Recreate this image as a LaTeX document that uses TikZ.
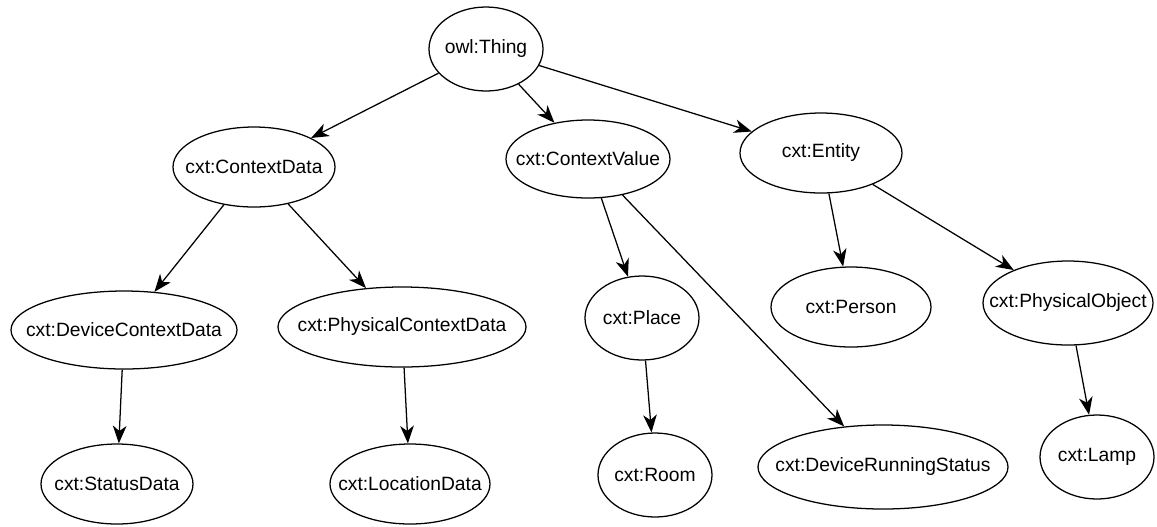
\documentclass[tikz,border=0pt]{standalone}
\usepackage{fontspec}
\setmainfont{Liberation Sans}
\usetikzlibrary{shapes.geometric,arrows.meta}
\newcommand{\kl}[1]{\makebox[0pt]{#1}}
\tikzset{
  klasse/.style={draw, ellipse, line width=0.9pt, inner sep=0pt,
    font=\fontsize{13.7}{16}\selectfont},
  sub/.style={line width=0.9pt, -{Stealth[length=0.44cm, width=0.34cm, inset=0.13cm]}}
}
\begin{document}
\begin{tikzpicture}
        \useasboundingbox (0,0) rectangle (28.925,-13.15);
        % Wurzel
        \node[klasse, minimum width=2.85cm, minimum height=2.1cm] (thing) at (12.15,-1.225) {\kl{owl:Thing}};
        % Ebene 1
        \node[klasse, minimum width=4.05cm, minimum height=2cm] (cdata) at (6.35,-4.175) {\kl{cxt:ContextData}};
        \node[klasse, minimum width=4.1cm, minimum height=1.95cm] (cvalue) at (14.7,-3.975) {\kl{cxt:ContextValue}};
        \node[klasse, minimum width=4.05cm, minimum height=2cm] (entity) at (20.525,-3.825) {\kl{cxt:Entity}};
        % Ebene 2
        \node[klasse, minimum width=5.65cm, minimum height=1.95cm] (devcd) at (3.1,-8.25) {\kl{cxt:DeviceContextData}};
        \node[klasse, minimum width=6.2cm, minimum height=2cm] (phycd) at (10.05,-8.175) {\kl{cxt:PhysicalContextData}};
        \node[klasse, minimum width=2.85cm, minimum height=2.1cm] (place) at (16.05,-7.95) {\kl{cxt:Place}};
        \node[klasse, minimum width=4cm, minimum height=2cm] (person) at (21.275,-7.675) {\kl{cxt:Person}};
        \node[klasse, minimum width=4.25cm, minimum height=2.1cm] (phyobj) at (26.7,-7.575) {\kl{cxt:PhysicalObject}};
        % Ebene 3
        \node[klasse, minimum width=3.8cm, minimum height=2cm] (status) at (2.925,-12.1) {\kl{cxt:StatusData}};
        \node[klasse, minimum width=4cm, minimum height=2cm] (location) at (10.25,-12.1) {\kl{cxt:LocationData}};
        \node[klasse, minimum width=2.85cm, minimum height=2.1cm] (room) at (16.375,-11.875) {\kl{cxt:Room}};
        \node[klasse, minimum width=6.25cm, minimum height=2.1cm] (drs) at (22.075,-11.675) {\kl{cxt:DeviceRunningStatus}};
        \node[klasse, minimum width=2.85cm, minimum height=2.1cm] (lamp) at (27.425,-11.425) {\kl{cxt:Lamp}};
        % Unterklassen
        \draw[sub] (thing) -- (cdata);
        \draw[sub] (thing) -- (cvalue);
        \draw[sub] (thing) -- (entity);
        \draw[sub] (cdata) -- (devcd);
        \draw[sub] (cdata) -- (phycd);
        \draw[sub] (cvalue) -- (place);
        \draw[sub] (cvalue) -- (drs);
        \draw[sub] (entity) -- (person);
        \draw[sub] (entity) -- (phyobj);
        \draw[sub] (devcd) -- (status);
        \draw[sub] (phycd) -- (location);
        \draw[sub] (place) -- (room);
        \draw[sub] (phyobj) -- (lamp);
    \end{tikzpicture}
\end{document}
